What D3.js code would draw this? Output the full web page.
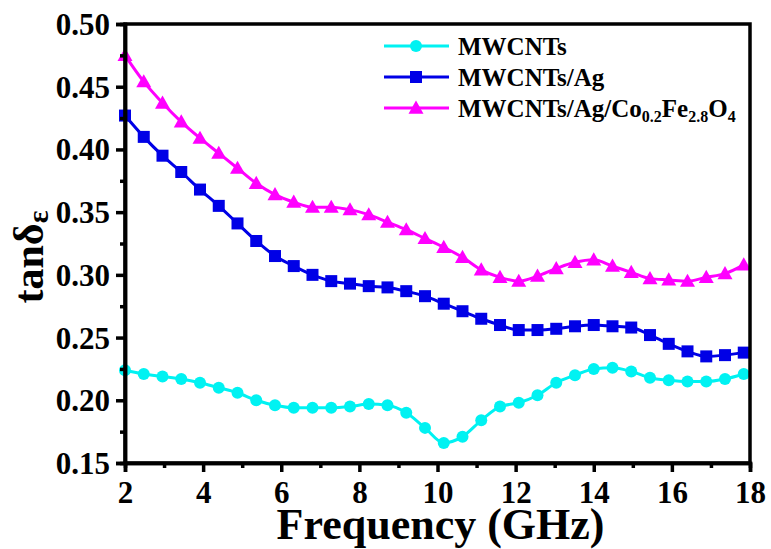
<!DOCTYPE html>
<html>
<head>
<meta charset="utf-8">
<script src="https://cdn.jsdelivr.net/npm/d3@7"></script>
<style>
  html, body { margin: 0; padding: 0; background: #fff; }
  svg { display: block; font-family: "Liberation Serif", "Times New Roman", serif; font-weight: bold; }
</style>
</head>
<body>
<svg id="chart" width="771" height="549"></svg>
<script>
// Frequency points (GHz)
const frequency = [2.00, 2.48, 2.96, 3.44, 3.92, 4.40, 4.88, 5.36, 5.84, 6.32, 6.80, 7.28,
  7.76, 8.24, 8.72, 9.20, 9.68, 10.16, 10.64, 11.12, 11.60, 12.08, 12.56, 13.04,
  13.52, 14.00, 14.48, 14.96, 15.44, 15.92, 16.40, 16.88, 17.36, 17.84];

// Dielectric loss tangent for each sample
const mwcnts = [0.224, 0.221, 0.219, 0.217, 0.214, 0.210, 0.206, 0.200, 0.196, 0.194, 0.194, 0.194,
  0.195, 0.197, 0.196, 0.190, 0.178, 0.166, 0.171, 0.184, 0.195, 0.198, 0.204, 0.214,
  0.220, 0.225, 0.226, 0.223, 0.218, 0.216, 0.215, 0.215, 0.217, 0.221];
const mwcntsAg = [0.427, 0.410, 0.395, 0.382, 0.368, 0.355, 0.341, 0.327, 0.315, 0.307, 0.300, 0.295,
  0.293, 0.291, 0.290, 0.287, 0.283, 0.277, 0.271, 0.265, 0.260, 0.256, 0.256, 0.257,
  0.259, 0.260, 0.259, 0.258, 0.252, 0.245, 0.239, 0.235, 0.236, 0.238];
const mwcntsAgCoFe = [0.475, 0.454, 0.437, 0.422, 0.409, 0.397, 0.385, 0.373, 0.364, 0.358, 0.354, 0.354,
  0.352, 0.348, 0.342, 0.336, 0.329, 0.322, 0.314, 0.304, 0.298, 0.295, 0.299, 0.305,
  0.310, 0.312, 0.307, 0.302, 0.297, 0.296, 0.295, 0.298, 0.301, 0.308];

// Axis ticks
const xTicks = [2, 4, 6, 8, 10, 12, 14, 16, 18];
const xMinorTicks = [3, 5, 7, 9, 11, 13, 15, 17];
const yTicks = [0.15, 0.20, 0.25, 0.30, 0.35, 0.40, 0.45, 0.50];
const yMinorTicks = [0.175, 0.225, 0.275, 0.325, 0.375, 0.425, 0.475];

const series = [
  { name: "MWCNTs", values: mwcnts, color: "#00F2F2", marker: "circle" },
  { name: "MWCNTs/Ag", values: mwcntsAg, color: "#0000E6", marker: "square" },
  { name: "MWCNTs/Ag/Co0.2Fe2.8O4", values: mwcntsAgCoFe, color: "#FF00FF", marker: "triangle" }
];

const svg = d3.select("#chart");
const W = 771, H = 549;
const margin = { left: 125, right: 21, top: 24, bottom: 86 };
const x = d3.scaleLinear().domain([2, 18]).range([margin.left, W - margin.right]);
const y = d3.scaleLinear().domain([0.15, 0.50]).range([H - margin.bottom, margin.top]);

const axisW = 3.5;

// Curves through the measured points
const line = d3.line().x((d, i) => x(frequency[i])).y(d => y(d)).curve(d3.curveMonotoneX);

const plot = svg.append("g");
series.forEach(s => {
  plot.append("path")
    .datum(s.values)
    .attr("d", line)
    .attr("fill", "none")
    .attr("stroke", s.color)
    .attr("stroke-width", 3);
});

function drawMarker(g, type, cx, cy, color) {
  if (type === "circle") {
    g.append("circle").attr("cx", cx).attr("cy", cy).attr("r", 6).attr("fill", color);
  } else if (type === "square") {
    g.append("rect").attr("x", cx - 6).attr("y", cy - 6).attr("width", 12).attr("height", 12).attr("fill", color);
  } else {
    const s = 7.5;
    g.append("path")
      .attr("d", `M${cx},${cy - s}L${cx + s},${cy + s * 0.75}L${cx - s},${cy + s * 0.75}Z`)
      .attr("fill", color);
  }
}

series.forEach(s => {
  const g = plot.append("g");
  s.values.forEach((v, i) => drawMarker(g, s.marker, x(frequency[i]), y(v), s.color));
});

// Frame
svg.append("rect")
  .attr("x", margin.left).attr("y", margin.top)
  .attr("width", W - margin.right - margin.left)
  .attr("height", H - margin.bottom - margin.top)
  .attr("fill", "none").attr("stroke", "#000").attr("stroke-width", axisW);

// Bottom axis
const xAxis = svg.append("g").attr("transform", `translate(0,${H - margin.bottom})`)
  .call(d3.axisBottom(x).tickValues(xTicks).tickFormat(d3.format("d")).tickSize(9).tickPadding(9));
const xMinor = svg.append("g").attr("transform", `translate(0,${H - margin.bottom})`)
  .call(d3.axisBottom(x).tickValues(xMinorTicks).tickFormat("").tickSize(5));

// Left axis
const yAxis = svg.append("g").attr("transform", `translate(${margin.left},0)`)
  .call(d3.axisLeft(y).tickValues(yTicks).tickFormat(d3.format(".2f")).tickSize(9).tickPadding(6));
const yMinor = svg.append("g").attr("transform", `translate(${margin.left},0)`)
  .call(d3.axisLeft(y).tickValues(yMinorTicks).tickFormat("").tickSize(5));

[xAxis, xMinor, yAxis, yMinor].forEach(a => {
  a.select(".domain").attr("stroke-width", axisW);
  a.selectAll(".tick line").attr("stroke-width", axisW);
  a.selectAll("text").attr("font-family", "Liberation Serif, Times New Roman, serif")
    .attr("font-weight", "bold").attr("font-size", 31).attr("fill", "#000");
});
yAxis.selectAll("text").attr("dy", "0.34em");

// Axis titles
svg.append("text")
  .attr("x", (margin.left + W - margin.right) / 2 + 3)
  .attr("y", 539)
  .attr("text-anchor", "middle")
  .attr("font-size", 44)
  .text("Frequency (GHz)");

const yTitle = svg.append("text")
  .attr("transform", "translate(43,257) rotate(-90)")
  .attr("text-anchor", "middle")
  .attr("font-size", 42);
yTitle.append("tspan").text("tanδ");
yTitle.append("tspan").attr("font-size", 30).attr("dy", 5).text("ε");

// Legend
const legendRows = [
  [{ t: "MWCNTs" }],
  [{ t: "MWCNTs/Ag" }],
  [{ t: "MWCNTs/Ag/Co" }, { t: "0.2", sub: true }, { t: "Fe" }, { t: "2.8", sub: true }, { t: "O" }, { t: "4", sub: true }]
];
const legendY = [46, 77, 108];
const legend = svg.append("g");
series.forEach((s, k) => {
  const cy = legendY[k];
  legend.append("line").attr("x1", 384).attr("x2", 449).attr("y1", cy).attr("y2", cy)
    .attr("stroke", s.color).attr("stroke-width", 3);
  drawMarker(legend, s.marker, 416, cy, s.color);
  const t = legend.append("text").attr("x", 458).attr("y", cy + 9).attr("font-size", 25);
  let prevSub = false;
  legendRows[k].forEach(p => {
    const ts = t.append("tspan").text(p.t);
    if (p.sub) {
      ts.attr("font-size", 16).attr("dy", prevSub ? 0 : 5);
    } else if (prevSub) {
      ts.attr("dy", -5);
    }
    prevSub = !!p.sub;
  });
});
</script>
</body>
</html>
